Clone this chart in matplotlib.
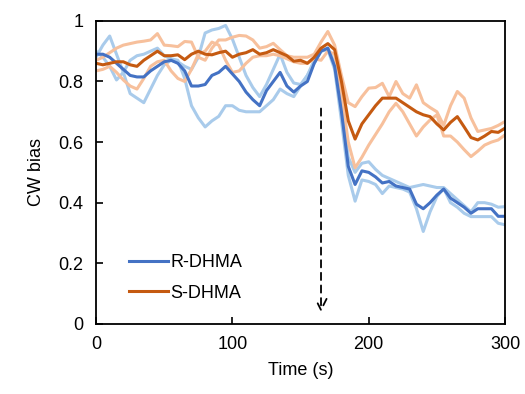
import numpy as np
import matplotlib.pyplot as plt

plt.rcParams['font.family'] = ['Liberation Sans', 'DejaVu Sans']

# 时间轴 (每5秒一个点)
time_s = np.arange(0, 301, 5)

# R-DHMA 平均值与两次重复
r_mean = [0.89, 0.89, 0.88, 0.86, 0.84, 0.82, 0.815, 0.815, 0.835, 0.85,
          0.865, 0.87, 0.86, 0.835, 0.785, 0.785, 0.79, 0.82, 0.83, 0.85,
          0.825, 0.80, 0.765, 0.74, 0.72, 0.77, 0.80, 0.83, 0.785, 0.765,
          0.785, 0.80, 0.86, 0.90, 0.91, 0.85, 0.70, 0.52, 0.46, 0.505,
          0.50, 0.485, 0.465, 0.47, 0.455, 0.45, 0.445, 0.395, 0.38, 0.40,
          0.425, 0.445, 0.415, 0.40, 0.385, 0.365, 0.38, 0.38, 0.38, 0.355,
          0.355]
r_rep1 = [0.88, 0.92, 0.95, 0.89, 0.83, 0.76, 0.745, 0.73, 0.775, 0.82,
          0.855, 0.87, 0.865, 0.85, 0.84, 0.88, 0.96, 0.97, 0.975, 0.985,
          0.94, 0.88, 0.82, 0.78, 0.75, 0.79, 0.84, 0.89, 0.83, 0.795,
          0.79, 0.82, 0.86, 0.90, 0.91, 0.86, 0.72, 0.55, 0.50, 0.53,
          0.535, 0.51, 0.49, 0.48, 0.47, 0.46, 0.45, 0.455, 0.46, 0.455,
          0.45, 0.45, 0.43, 0.41, 0.39, 0.37, 0.40, 0.40, 0.395, 0.385,
          0.387]
r_rep2 = [0.90, 0.88, 0.85, 0.805, 0.83, 0.87, 0.885, 0.89, 0.90, 0.91,
          0.885, 0.875, 0.87, 0.81, 0.72, 0.68, 0.65, 0.67, 0.685, 0.72,
          0.72, 0.705, 0.70, 0.70, 0.70, 0.72, 0.74, 0.775, 0.76, 0.75,
          0.785, 0.82, 0.87, 0.90, 0.905, 0.84, 0.67, 0.49, 0.405, 0.475,
          0.47, 0.46, 0.43, 0.455, 0.45, 0.445, 0.435, 0.38, 0.305, 0.37,
          0.42, 0.447, 0.40, 0.385, 0.365, 0.354, 0.354, 0.354, 0.354, 0.332,
          0.327]

# S-DHMA 平均值与两次重复
s_mean = [0.86, 0.855, 0.86, 0.865, 0.865, 0.855, 0.85, 0.87, 0.885, 0.90,
          0.885, 0.885, 0.888, 0.872, 0.89, 0.90, 0.89, 0.888, 0.895, 0.90,
          0.88, 0.89, 0.895, 0.905, 0.89, 0.895, 0.905, 0.895, 0.885, 0.867,
          0.87, 0.86, 0.88, 0.91, 0.925, 0.905, 0.80, 0.67, 0.61, 0.66,
          0.69, 0.72, 0.745, 0.745, 0.745, 0.73, 0.715, 0.70, 0.69, 0.684,
          0.66, 0.64, 0.665, 0.684, 0.65, 0.615, 0.607, 0.62, 0.635, 0.632,
          0.646]
s_rep1 = [0.87, 0.88, 0.895, 0.91, 0.92, 0.925, 0.93, 0.933, 0.937, 0.958,
          0.92, 0.918, 0.915, 0.932, 0.93, 0.88, 0.87, 0.91, 0.937, 0.937,
          0.946, 0.952, 0.95, 0.937, 0.91, 0.915, 0.926, 0.905, 0.885, 0.88,
          0.88, 0.88, 0.89, 0.93, 0.965, 0.92, 0.82, 0.73, 0.717, 0.75,
          0.778, 0.78, 0.794, 0.75, 0.80, 0.76, 0.745, 0.789, 0.73, 0.714,
          0.70, 0.655, 0.72, 0.767, 0.745, 0.68, 0.635, 0.64, 0.645, 0.655,
          0.668]
s_rep2 = [0.835, 0.84, 0.85, 0.83, 0.805, 0.785, 0.775, 0.81, 0.85, 0.865,
          0.87, 0.835, 0.81, 0.80, 0.84, 0.89, 0.90, 0.93, 0.92, 0.87,
          0.83, 0.835, 0.86, 0.88, 0.885, 0.885, 0.89, 0.885, 0.875, 0.865,
          0.86, 0.86, 0.875, 0.87, 0.90, 0.89, 0.76, 0.60, 0.515, 0.55,
          0.59, 0.625, 0.66, 0.70, 0.728, 0.70, 0.66, 0.62, 0.65, 0.673,
          0.69, 0.62, 0.62, 0.60, 0.575, 0.552, 0.57, 0.59, 0.60, 0.607,
          0.624]

# 刺激时间点 (箭头)
stim_time = 165
arrow_top = 0.72
arrow_bottom = 0.03


def plot_cw_bias():
    fig = plt.figure(figsize=(5.25, 3.94), dpi=100)
    ax = fig.add_axes([0.183, 0.178, 0.779, 0.769])

    light_blue = '#a9cbeb'
    light_orange = '#f7c09c'
    dark_blue = '#4472c4'
    dark_orange = '#c55a11'

    # 重复实验 (浅色)
    ax.plot(time_s, r_rep1, color=light_blue, lw=2.2)
    ax.plot(time_s, r_rep2, color=light_blue, lw=2.2)
    ax.plot(time_s, s_rep1, color=light_orange, lw=2.2)
    ax.plot(time_s, s_rep2, color=light_orange, lw=2.2)

    # 平均值 (深色)
    ax.plot(time_s, r_mean, color=dark_blue, lw=2.2, label='R-DHMA')
    ax.plot(time_s, s_mean, color=dark_orange, lw=2.2, label='S-DHMA')

    # 虚线箭头
    ax.annotate('', xy=(stim_time, arrow_bottom), xytext=(stim_time, arrow_top),
                arrowprops=dict(arrowstyle='->', linestyle=(0, (4, 3)),
                                color='black', lw=1.3, mutation_scale=20))

    ax.set_xlim(0, 300)
    ax.set_ylim(0, 1)
    ax.set_xticks([0, 100, 200, 300])
    ax.set_yticks([0, 0.2, 0.4, 0.6, 0.8, 1])
    ax.set_yticklabels(['0', '0.2', '0.4', '0.6', '0.8', '1'])
    ax.tick_params(direction='in', length=5, width=1.2, labelsize=13, pad=9)
    for sp in ax.spines.values():
        sp.set_linewidth(1.3)

    ax.set_xlabel('Time (s)', fontsize=13, labelpad=6)
    ax.set_ylabel('CW bias', fontsize=13, labelpad=10)

    ax.legend(loc='lower left', bbox_to_anchor=(0.04, 0.02), frameon=False,
              fontsize=13, handlelength=2.2, handletextpad=0.1,
              labelspacing=0.75)

    fig.savefig('out.png', dpi=100)


if __name__ == "__main__":
    plot_cw_bias()
